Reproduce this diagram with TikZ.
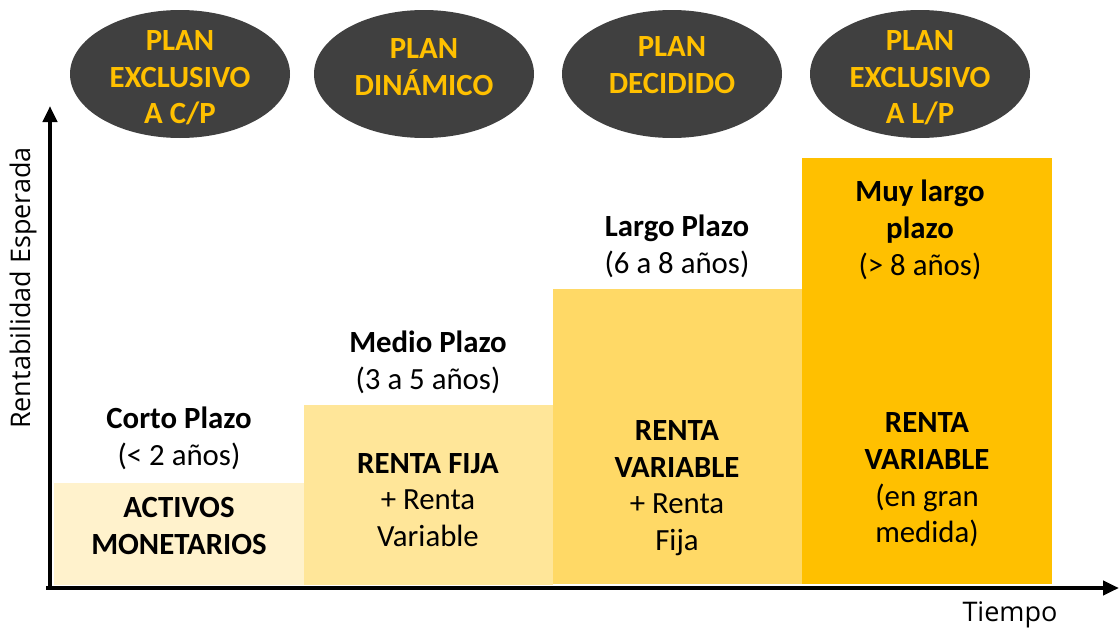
\documentclass[tikz,border=0pt]{standalone}
\usepackage{fontspec}
\setmainfont{Carlito}
\newfontfamily\axisfont{Open Sans}
\usetikzlibrary{shapes.geometric,arrows.meta}
\definecolor{darkell}{HTML}{404040}
\definecolor{gold}{HTML}{FFC000}
\definecolor{barA}{HTML}{FFF2CC}
\definecolor{barB}{HTML}{FFE699}
\definecolor{barC}{HTML}{FFD966}
\definecolor{barD}{HTML}{FFC000}
\tikzset{
 plan/.style={ellipse, fill=darkell, minimum width=220pt, minimum height=128pt, inner sep=0pt},
 plantext/.style={text=gold, font=\fontsize{30.8}{36.7}\selectfont\bfseries, align=center, inner sep=0pt},
 bartext/.style={font=\fontsize{30.8}{36.7}\selectfont, align=center, inner sep=0pt},
 axisline/.style={line width=4pt, -{Triangle[length=16pt,width=14pt]}},
 axislabel/.style={font=\axisfont\fontsize{27}{30}\selectfont, inner sep=0pt},
}
\begin{document}
\begin{tikzpicture}[x=1pt,y=-1pt]
\useasboundingbox (0,0) rectangle (1120,632);
% bars
\fill[barA] (54,483) rectangle (304,585);
\fill[barB] (304,405) rectangle (553,585);
\fill[barC] (553,289) rectangle (802,584);
\fill[barD] (802,158) rectangle (1052,584);
% ellipses
\node[plan] (e1) at (180,74) {};
\node[plan] (e2) at (424,74) {};
\node[plan] (e3) at (672,74) {};
\node[plan] (e4) at (920,74) {};
\node[plantext] (p1) at (180,78) {PLAN\\EXCLUSIVO\\A C/P};
\node[plantext] (p2) at (424,67) {PLAN\\DIN\'AMICO};
\node[plantext] (p3) at (672,65) {PLAN\\DECIDIDO};
\node[plantext] (p4) at (920,78) {PLAN\\EXCLUSIVO\\A L/P};
% labels above bars
\node[bartext] (h1) at (179,438) {\textbf{Corto Plazo}\\(< 2 años)};
\node[bartext] (h2) at (428,362) {\textbf{Medio Plazo}\\(3 a 5 años)};
\node[bartext] (h3) at (677,246) {\textbf{Largo Plazo}\\(6 a 8 años)};
\node[bartext] (h4) at (920,230) {\textbf{Muy largo}\\\textbf{plazo}\\(> 8 años)};
% labels inside bars
\node[bartext] (b1) at (179,526) {\textbf{ACTIVOS}\\\textbf{MONETARIOS}};
\node[bartext] (b2) at (428,500) {\textbf{RENTA FIJA}\\+ Renta\\Variable};
\node[bartext] (b3) at (677,488) {\textbf{RENTA}\\\textbf{VARIABLE}\\+ Renta\\Fija};
\node[bartext] (b4) at (927,480) {\textbf{RENTA}\\\textbf{VARIABLE}\\(en gran\\medida)};
% axes
\coordinate (origin) at (50,588);
\coordinate (ytip) at (50,106);
\coordinate (xstart) at (46,588);
\coordinate (xtip) at (1119,588);
\draw[axisline] (origin) -- (ytip);
\draw[axisline] (xstart) -- (xtip);
\node[axislabel, rotate=90] (ylab) at (23,288) {Rentabilidad Esperada};
\node[axislabel] (xlab) at (1010,615) {Tiempo};
\end{tikzpicture}
\end{document}
